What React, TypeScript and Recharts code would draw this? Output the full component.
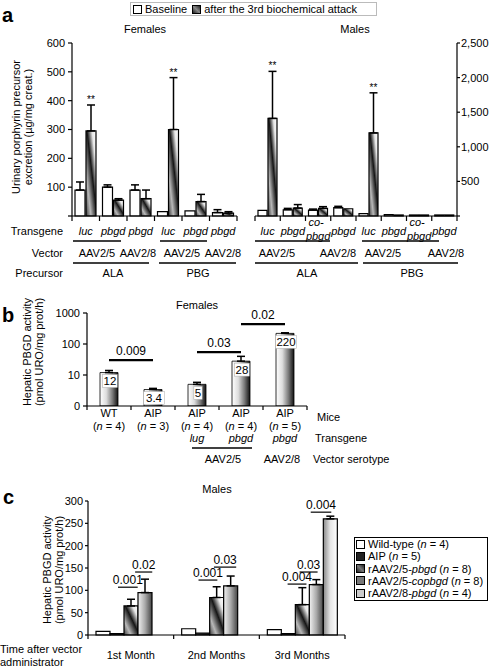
import React from 'react';
import { BarChart, Bar, XAxis, YAxis, ErrorBar, ReferenceLine } from 'recharts';

const FONT = '"Liberation Sans", Arial, Helvetica, sans-serif';
const W = 490;
const H = 668;

// ---------- Panel a : urinary porphyrin precursors ----------
const femaleIds = ['f1', 'f2', 'f3', 'f4', 'f5', 'f6'];
const femaleTransgene = ['luc', 'pbgd', 'pbgd', 'luc', 'pbgd', 'pbgd'];
const femaleBaseline = [90, 100, 90, 15, 18, 12];
const femaleBaselineErr = [28, 8, 18, null, null, 10];
const femaleAttack = [295, 55, 60, 300, 50, 10];
const femaleAttackErr = [90, 5, 30, 180, 25, 5];
const femaleStars = ['**', '', '', '**', '', ''];

const maleIds = ['m1', 'm2', 'm3', 'm4', 'm5', 'm6', 'm7', 'm8'];
const maleTransgene = ['luc', 'pbgd', 'co-pbgd', 'pbgd', 'luc', 'pbgd', 'co-pbgd', 'pbgd'];
const maleBaseline = [80, 90, 85, 120, 35, 20, 15, 15];
const maleBaselineErr = [null, 20, 15, 20, null, null, null, null];
const maleAttack = [1410, 115, 110, 105, 1200, 15, 15, 15];
const maleAttackErr = [680, 50, 25, null, 580, null, null, null];
const maleStars = ['**', '', '', '', '**', '', '', ''];

const femaleTicks = [0, 100, 200, 300, 400, 500, 600];
const maleTicks = [0, 500, 1000, 1500, 2000, 2500];

// ---------- Panel b : hepatic PBGD activity, females ----------
const miceIds = ['WT', 'AIP1', 'AIP2', 'AIP3', 'AIP4'];
const miceLabels = ['WT', 'AIP', 'AIP', 'AIP', 'AIP'];
const miceN = [4, 3, 4, 4, 5];
const miceTransgene = ['', '', 'lug', 'pbgd', 'pbgd'];
const femaleActivity = [12, 3.4, 5, 28, 220];
const femaleActivityErr = [2, 0.3, 0.8, 12, 10];
const femaleActivityLabels = ['12', '3.4', '5', '28', '220'];
const bTicks = [1, 10, 100, 1000];
const bSig = [
  { from: 'WT', to: 'AIP1', y: 30, label: '0.009' },
  { from: 'AIP2', to: 'AIP3', y: 55, label: '0.03' },
  { from: 'AIP3', to: 'AIP4', y: 440, label: '0.02' },
];

// ---------- Panel c : hepatic PBGD activity, males ----------
const months = ['1st Month', '2nd Months', '3rd Months'];
const wildType = [8, 14, 12];
const aipOnly = [3, 4, 3];
const pbgd25 = [65, 84, 68];
const pbgd25Err = [15, 24, 38];
const copbgd25 = [95, 110, 113];
const copbgd25Err = [30, 22, 11];
const pbgd28 = [null, null, 260];
const pbgd28Err = [null, null, 6];
const cTicks = [0, 50, 100, 150, 200, 250, 300];
// significance bars: month, start / end offsets (fraction of a month band from its centre), y value
const cSig = [
  { month: '1st Month', o1: -0.15, o2: 0.08, y: 107, label: '0.001' },
  { month: '1st Month', o1: 0.05, o2: 0.25, y: 141, label: '0.02' },
  { month: '2nd Months', o1: -0.21, o2: 0.01, y: 123, label: '0.001' },
  { month: '2nd Months', o1: -0.03, o2: 0.23, y: 152, label: '0.03' },
  { month: '3rd Months', o1: -0.17, o2: 0.05, y: 114, label: '0.004' },
  { month: '3rd Months', o1: -0.03, o2: 0.18, y: 141, label: '0.03' },
  { month: '3rd Months', o1: 0.1, o2: 0.34, y: 275, label: '0.004' },
];

const femaleData = femaleIds.map((id, i) => ({
  id,
  base: femaleBaseline[i],
  baseErr: femaleBaselineErr[i] == null ? null : [0, femaleBaselineErr[i]],
  attack: femaleAttack[i],
  attackErr: femaleAttackErr[i] == null ? null : [0, femaleAttackErr[i]],
  top: femaleAttack[i] + (femaleAttackErr[i] || 0),
  star: femaleStars[i],
}));
const maleData = maleIds.map((id, i) => ({
  id,
  base: maleBaseline[i],
  baseErr: maleBaselineErr[i] == null ? null : [0, maleBaselineErr[i]],
  attack: maleAttack[i],
  attackErr: maleAttackErr[i] == null ? null : [0, maleAttackErr[i]],
  top: maleAttack[i] + (maleAttackErr[i] || 0),
  star: maleStars[i],
}));
const bData = miceIds.map((id, i) => ({
  id,
  v: femaleActivity[i],
  err: [0, femaleActivityErr[i]],
}));
const cData = months.map((m, i) => ({
  m,
  wt: wildType[i],
  aip: aipOnly[i],
  p25: pbgd25[i],
  p25e: [0, pbgd25Err[i]],
  c25: copbgd25[i],
  c25e: [0, copbgd25Err[i]],
  p28: pbgd28[i],
  p28e: pbgd28Err[i] == null ? null : [0, pbgd28Err[i]],
}));

// plot geometry (page coordinates)
const A_F = { left: 72, right: 237, top: 43, bottom: 216 };
const A_M = { left: 255, right: 457, top: 43, bottom: 216 };
const B_P = { left: 87, right: 307, top: 313, bottom: 406 };
const C_P = { left: 88, right: 345, top: 501, bottom: 635 };
const AXH = 20;
const bandOf = (p: any, n: number) => (p.right - p.left) / n;

const TXT = { fill: '#000', fontSize: 11 };
const AX = { stroke: '#000', strokeWidth: 1.2 };

const makeStar = (rows: any[]) => (props: any) => {
  const { x, y, width, height, index } = props;
  const row = rows[index];
  if (!row || !row.star || !row.attack) return null;
  const ppu = height / row.attack;
  const yTop = y + height - row.top * ppu;
  return (
    <text x={x + width / 2} y={yTop - 2} textAnchor="middle" fontSize={10} fill="#000">
      {row.star}
    </text>
  );
};

const BoundaryTicks = ({ x, band, y0, len, last }: any) => (
  <g stroke="#000" strokeWidth={1.2}>
    <line x1={x - band / 2} x2={x - band / 2} y1={y0} y2={y0 + len} />
    {last ? <line x1={x + band / 2} x2={x + band / 2} y1={y0} y2={y0 + len} /> : null}
  </g>
);

const makeTransTick = (ids: string[], labels: string[], p: any) => (props: any) => {
  const { x, payload } = props;
  const i = ids.indexOf(payload.value);
  const t = labels[i];
  const band = bandOf(p, ids.length);
  const ticks = <BoundaryTicks x={x} band={band} y0={p.bottom} len={5} last={i === ids.length - 1} />;
  if (t === 'co-pbgd') {
    return (
      <g>
        {ticks}
        <text x={x - 2} y={226} textAnchor="middle" fontStyle="italic" fontSize={11} fill="#000">co-</text>
        <text x={x} y={240} textAnchor="middle" fontStyle="italic" fontSize={11} fill="#000">pbgd</text>
      </g>
    );
  }
  return (
    <g>
      {ticks}
      <text x={x} y={235} textAnchor="middle" fontStyle="italic" fontSize={11} fill="#000">{t}</text>
    </g>
  );
};

const MiceTick = (props: any) => {
  const { x, payload } = props;
  const i = miceIds.indexOf(payload.value);
  return (
    <g fontSize={11} fill="#000">
      <BoundaryTicks x={x} band={bandOf(B_P, miceIds.length)} y0={B_P.bottom} len={4} last={i === miceIds.length - 1} />
      <text x={x} y={417} textAnchor="middle">{miceLabels[i]}</text>
      <text x={x} y={430} textAnchor="middle">
        (<tspan fontStyle="italic">n</tspan> = {miceN[i]})
      </text>
      {miceTransgene[i] ? (
        <text x={x} y={442} textAnchor="middle" fontStyle="italic">{miceTransgene[i]}</text>
      ) : null}
    </g>
  );
};

const MonthTick = (props: any) => {
  const { x, payload } = props;
  const i = months.indexOf(payload.value);
  return (
    <g>
      <BoundaryTicks x={x} band={bandOf(C_P, months.length)} y0={C_P.bottom} len={4} last={i === months.length - 1} />
      <text x={x} y={659} textAnchor="middle" fontSize={11} fill="#000">{payload.value}</text>
    </g>
  );
};

const ValueBox = (props: any) => {
  const { x, y, width, index } = props;
  const t = femaleActivityLabels[index];
  const tw = t.length * 6.3 + 2;
  const cx = x + width / 2 + 1;
  return (
    <g>
      <rect x={cx - tw / 2} y={y + 2} width={tw} height={13} fill="#fff" stroke="#aaa" strokeWidth={0.5} />
      <text x={cx} y={y + 12.5} textAnchor="middle" fontSize={11.5} fill="#000">{t}</text>
    </g>
  );
};

const makeSigShape = (s: any) => (props: any) => {
  const band = bandOf(C_P, months.length);
  const xa = props.x1 + s.o1 * band;
  const xb = props.x1 + s.o2 * band;
  const y = props.y1;
  return (
    <g>
      <line x1={xa} x2={xb} y1={y} y2={y} stroke="#000" strokeWidth={1.2} />
      <text x={(xa + xb) / 2} y={y - 3} textAnchor="middle" fontSize={12} fill="#000">{s.label}</text>
    </g>
  );
};

const abs: React.CSSProperties = { position: 'absolute', left: 0, top: 0 };

const Swatch = ({ bg, border = '#000' }: { bg: string; border?: string }) => (
  <span
    style={{
      display: 'inline-block',
      width: 7,
      height: 7,
      border: `1px solid ${border}`,
      background: bg,
      marginRight: 3,
      verticalAlign: 'middle',
      position: 'relative',
      top: -1,
    }}
  />
);

export default function App() {
  return (
    <div style={{ position: 'absolute', left: 0, top: 0, width: W, height: H, background: '#fff', fontFamily: FONT, color: '#000', overflow: 'hidden' }}>
      <svg width={0} height={0} style={{ position: 'absolute' }}>
        <defs>
          <linearGradient id="gAttack" x1="0" y1="1" x2="1" y2="0">
            <stop offset="0" stopColor="#3a3a3a" />
            <stop offset="0.25" stopColor="#b8b8b8" />
            <stop offset="0.55" stopColor="#151515" />
            <stop offset="0.8" stopColor="#e8e8e8" />
            <stop offset="1" stopColor="#ffffff" />
          </linearGradient>
          <linearGradient id="gB" x1="0" y1="0" x2="1" y2="0">
            <stop offset="0" stopColor="#ffffff" />
            <stop offset="0.35" stopColor="#dddddd" />
            <stop offset="0.7" stopColor="#777777" />
            <stop offset="1" stopColor="#111111" />
          </linearGradient>
          <linearGradient id="gAip" x1="0" y1="0" x2="1" y2="0">
            <stop offset="0" stopColor="#555" />
            <stop offset="1" stopColor="#111" />
          </linearGradient>
          <linearGradient id="gCo" x1="0" y1="0" x2="1" y2="0">
            <stop offset="0" stopColor="#f2f2f2" />
            <stop offset="0.5" stopColor="#aaaaaa" />
            <stop offset="1" stopColor="#444444" />
          </linearGradient>
          <linearGradient id="g28" x1="0" y1="0" x2="1" y2="0">
            <stop offset="0" stopColor="#888888" />
            <stop offset="0.5" stopColor="#e5e5e5" />
            <stop offset="1" stopColor="#ffffff" />
          </linearGradient>
        </defs>
      </svg>

      {/* Panel a, females */}
      <div style={abs}>
        <BarChart width={W} height={H} data={femaleData} margin={{ top: A_F.top, left: A_F.left - 40, right: W - A_F.right, bottom: H - A_F.bottom - AXH }} barCategoryGap={3} barGap={1}>
          <XAxis dataKey="id" height={AXH} axisLine={AX} tickLine={false} interval={0} tick={makeTransTick(femaleIds, femaleTransgene, A_F)} />
          <YAxis width={40} domain={[0, 600]} ticks={femaleTicks} interval={0} tick={TXT} tickSize={4} tickMargin={3} tickLine={AX} axisLine={AX} tickFormatter={(v: number) => (v === 0 ? '' : String(v))} />
          <Bar dataKey="base" fill="#fff" stroke="#000" strokeWidth={1.2} isAnimationActive={false}>
            <ErrorBar dataKey="baseErr" width={4} stroke="#000" strokeWidth={1.5} />
          </Bar>
          <Bar dataKey="attack" fill="url(#gAttack)" stroke="#000" strokeWidth={1.2} isAnimationActive={false} label={makeStar(femaleData)}>
            <ErrorBar dataKey="attackErr" width={4} stroke="#000" strokeWidth={1.5} />
          </Bar>
        </BarChart>
      </div>

      {/* Panel a, males */}
      <div style={abs}>
        <BarChart width={W} height={H} data={maleData} margin={{ top: A_M.top, left: A_M.left, right: W - A_M.right - 33, bottom: H - A_M.bottom - AXH }} barCategoryGap={3} barGap={1}>
          <XAxis dataKey="id" height={AXH} axisLine={AX} tickLine={false} interval={0} tick={makeTransTick(maleIds, maleTransgene, A_M)} />
          <YAxis orientation="right" width={33} domain={[0, 2500]} ticks={maleTicks} interval={0} tick={TXT} tickSize={3} tickMargin={1} tickLine={AX} axisLine={AX} tickFormatter={(v: number) => (v === 0 ? '' : v.toLocaleString('en-US'))} />
          <Bar dataKey="base" fill="#fff" stroke="#000" strokeWidth={1.2} isAnimationActive={false}>
            <ErrorBar dataKey="baseErr" width={4} stroke="#000" strokeWidth={1.5} />
          </Bar>
          <Bar dataKey="attack" fill="url(#gAttack)" stroke="#000" strokeWidth={1.2} isAnimationActive={false} label={makeStar(maleData)}>
            <ErrorBar dataKey="attackErr" width={4} stroke="#000" strokeWidth={1.5} />
          </Bar>
        </BarChart>
      </div>

      {/* Panel b */}
      <div style={abs}>
        <BarChart width={W} height={H} data={bData} margin={{ top: B_P.top, left: B_P.left - 40, right: W - B_P.right, bottom: H - B_P.bottom - AXH }} barCategoryGap={13}>
          <XAxis dataKey="id" height={AXH} axisLine={AX} tickLine={false} interval={0} tick={MiceTick} />
          <YAxis width={40} scale="log" domain={[1, 1000]} ticks={bTicks} interval={0} tick={TXT} tickSize={4} tickMargin={3} tickLine={AX} axisLine={AX} allowDataOverflow tickFormatter={(v: number) => (v === 1 ? '0' : String(v))} />
          <Bar dataKey="v" fill="url(#gB)" stroke="#000" strokeWidth={0.8} isAnimationActive={false} label={ValueBox}>
            <ErrorBar dataKey="err" width={4} stroke="#000" strokeWidth={1.5} />
          </Bar>
          {bSig.map((s, i) => (
            <ReferenceLine
              key={i}
              segment={[{ x: s.from, y: s.y }, { x: s.to, y: s.y }]}
              stroke="#000"
              strokeWidth={2.2}
              label={{ value: s.label, position: 'top', fill: '#000', fontSize: 12, offset: 5 }}
            />
          ))}
        </BarChart>
      </div>

      {/* Panel c */}
      <div style={abs}>
        <BarChart width={W} height={H} data={cData} margin={{ top: C_P.top, left: C_P.left - 40, right: W - C_P.right, bottom: H - C_P.bottom - AXH }} barCategoryGap={8} barGap={0}>
          <XAxis dataKey="m" height={AXH} axisLine={AX} tickLine={false} interval={0} tick={MonthTick} />
          <YAxis width={40} domain={[0, 300]} ticks={cTicks} interval={0} tick={TXT} tickSize={3} tickMargin={2} tickLine={AX} axisLine={AX} />
          <Bar dataKey="wt" fill="#fff" stroke="#000" strokeWidth={1.2} isAnimationActive={false} />
          <Bar dataKey="aip" fill="url(#gAip)" stroke="#000" strokeWidth={1.2} isAnimationActive={false} />
          <Bar dataKey="p25" fill="url(#gAttack)" stroke="#000" strokeWidth={1.2} isAnimationActive={false}>
            <ErrorBar dataKey="p25e" width={4} stroke="#000" strokeWidth={1.5} />
          </Bar>
          <Bar dataKey="c25" fill="url(#gCo)" stroke="#000" strokeWidth={1.2} isAnimationActive={false}>
            <ErrorBar dataKey="c25e" width={4} stroke="#000" strokeWidth={1.5} />
          </Bar>
          <Bar dataKey="p28" fill="url(#g28)" stroke="#000" strokeWidth={1.2} isAnimationActive={false}>
            <ErrorBar dataKey="p28e" width={4} stroke="#000" strokeWidth={1.5} />
          </Bar>
          {cSig.map((s, i) => (
            <ReferenceLine
              key={i}
              segment={[{ x: s.month, y: s.y }, { x: s.month, y: s.y }]}
              stroke="#000"
              shape={makeSigShape(s)}
            />
          ))}
        </BarChart>
      </div>

      {/* Annotations */}
      <svg width={W} height={H} style={{ ...abs, pointerEvents: 'none' }} fontFamily={FONT} fill="#000">
        <text x={2} y={22} fontSize={20} fontWeight="bold">a</text>
        <text x={2} y={322} fontSize={20} fontWeight="bold">b</text>
        <text x={3} y={504} fontSize={20} fontWeight="bold">c</text>

        <text x={145} y={33} fontSize={11} textAnchor="middle">Females</text>
        <text x={355} y={33} fontSize={11} textAnchor="middle">Males</text>
        <g transform="translate(20,127) rotate(-90)">
          <text x={0} y={0} fontSize={11} textAnchor="middle">Urinary porphyrin precursor</text>
          <text x={0} y={12} fontSize={11} textAnchor="middle">excretion (µg/mg creat.)</text>
        </g>

        {[['Transgene', 235], ['Vector', 257], ['Precursor', 277]].map(([t, y]) => (
          <text key={t as string} x={63} y={y as number} fontSize={11} textAnchor="end">{t}</text>
        ))}
        {[[73, 121], [160, 207], [255, 330], [362, 439]].map(([a, b], i) => (
          <line key={'tl' + i} x1={a} x2={b} y1={241} y2={241} stroke="#000" strokeWidth={1.3} />
        ))}
        {[['AAV2/5', 97], ['AAV2/8', 138], ['AAV2/5', 182], ['AAV2/8', 223], ['AAV2/5', 277], ['AAV2/8', 338], ['AAV2/5', 383], ['AAV2/8', 446]].map(([t, x], i) => (
          <text key={'v' + i} x={x as number} y={257} fontSize={11} textAnchor="middle">{t}</text>
        ))}
        {[[73, 149], [159, 236], [255, 358], [363, 458]].map(([a, b], i) => (
          <line key={'vl' + i} x1={a} x2={b} y1={263} y2={263} stroke="#000" strokeWidth={1.3} />
        ))}
        {[['ALA', 113], ['PBG', 198], ['ALA', 307], ['PBG', 412]].map(([t, x], i) => (
          <text key={'p' + i} x={x as number} y={277} fontSize={11} textAnchor="middle">{t}</text>
        ))}

        <text x={197} y={309} fontSize={11} textAnchor="middle">Females</text>
        <g transform="translate(31,352) rotate(-90)">
          <text x={0} y={0} fontSize={11} textAnchor="middle">Hepatic PBGD activity</text>
          <text x={0} y={12} fontSize={11} textAnchor="middle">(pmol URO/mg prot/h)</text>
        </g>
        <text x={317} y={421} fontSize={11}>Mice</text>
        <text x={315} y={442} fontSize={11}>Transgene</text>
        <line x1={192} x2={252} y1={448} y2={448} stroke="#000" strokeWidth={1.3} />
        <text x={223} y={463} fontSize={11} textAnchor="middle">AAV2/5</text>
        <text x={282} y={463} fontSize={11} textAnchor="middle">AAV2/8</text>
        <text x={313} y={463} fontSize={11}>Vector serotype</text>

        <text x={217} y={493} fontSize={11} textAnchor="middle">Males</text>
        <g transform="translate(51,570) rotate(-90)">
          <text x={0} y={0} fontSize={11} textAnchor="middle">Hepatic PBGD activity</text>
          <text x={0} y={12} fontSize={11} textAnchor="middle">(pmol URO/mg prot/h)</text>
        </g>
        <text x={0} y={653} fontSize={11}>Time after vector</text>
        <text x={0} y={666} fontSize={11}>administrator</text>
      </svg>

      {/* Legend a */}
      <div style={{ position: 'absolute', left: 130, top: 2, width: 243, height: 12, border: '1px solid #bbb', fontSize: 11, lineHeight: '12px', whiteSpace: 'nowrap', paddingLeft: 2 }}>
        <Swatch bg="#fff" />Baseline
        <span style={{ display: 'inline-block', width: 5 }} />
        <Swatch bg="linear-gradient(45deg,#222 0%,#888 50%,#222 100%)" />after the 3rd biochemical attack
      </div>

      {/* Legend c */}
      <div style={{ position: 'absolute', left: 354, top: 537, width: 131, height: 62, border: '1px solid #000', fontSize: 11, lineHeight: '12.3px', whiteSpace: 'nowrap', paddingLeft: 1, paddingTop: 0 }}>
        <div><Swatch bg="#fff" />Wild-type (<i>n</i> = 4)</div>
        <div><Swatch bg="#222" />AIP (<i>n</i> = 5)</div>
        <div><Swatch bg="linear-gradient(45deg,#222 0%,#777 50%,#222 100%)" />rAAV2/5-<i>pbgd</i> (<i>n</i> = 8)</div>
        <div><Swatch bg="#777" />rAAV2/5-<i>copbgd</i> (<i>n</i> = 8)</div>
        <div><Swatch bg="#ccc" />rAAV2/8-<i>pbgd</i> (<i>n</i> = 4)</div>
      </div>
    </div>
  );
}
